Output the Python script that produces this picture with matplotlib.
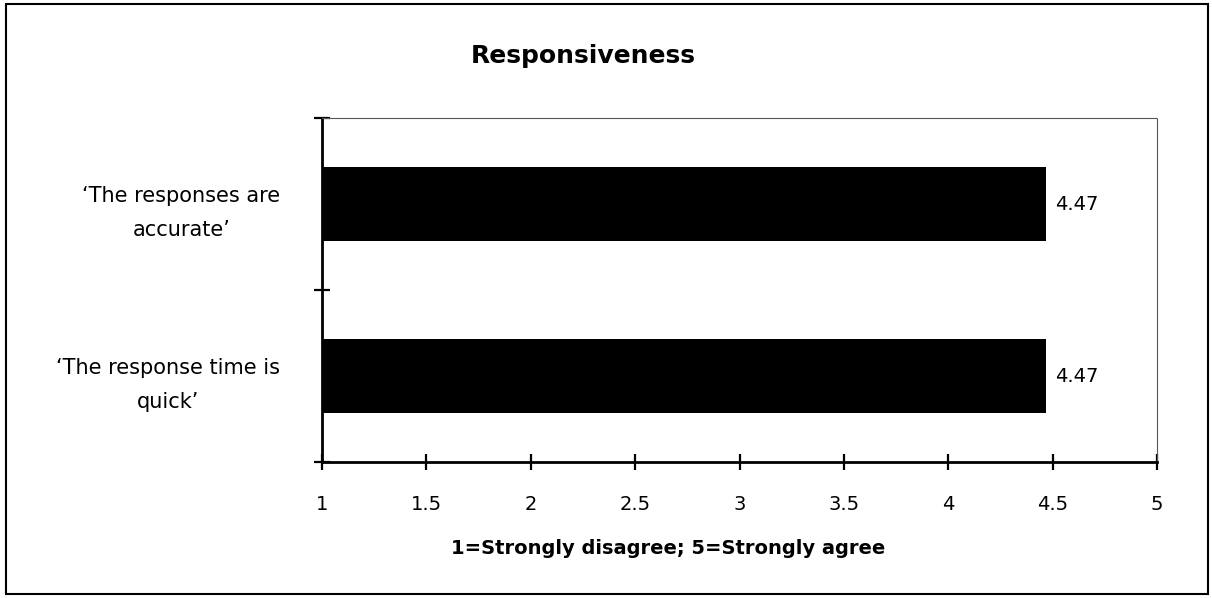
import matplotlib.pyplot as plt
from matplotlib.patches import Rectangle

# ====== Data ======
statements = ["\u2018The response time is\nquick\u2019", "\u2018The responses are\naccurate\u2019"]
scores = [4.47, 4.47]
x_ticks = [1, 1.5, 2, 2.5, 3, 3.5, 4, 4.5, 5]
x_tick_labels = ["1", "1.5", "2", "2.5", "3", "3.5", "4", "4.5", "5"]

plt.rcParams['font.family'] = ['DejaVu Sans']

fig = plt.figure(figsize=(12.12, 5.98), dpi=100)
ax = fig.add_axes([322 / 1212, 1 - 462 / 598, 835 / 1212, 344 / 598])

# bars (centred on each category band)
centers = [i + 0.5 for i in range(len(statements))]
ax.barh(centers, scores, height=0.43, color='black')
for c, v in zip(centers, scores):
    ax.text(v + 0.04, c, f"{v:.2f}", va='center', ha='left', fontsize=14)

ax.set_xlim(1, 5)
ax.set_ylim(0, len(statements))

# x axis
ax.set_xticks(x_ticks)
ax.set_xticklabels(x_tick_labels, fontsize=14)
ax.tick_params(axis='x', direction='inout', length=12, width=1.6, pad=18)

# y axis: ticks on band boundaries, labels in band centres
ax.set_yticks(range(len(statements) + 1))
ax.set_yticklabels([])
ax.set_yticks(centers, minor=True)
ax.set_yticklabels(statements, minor=True, fontsize=15, multialignment='center',
                   linespacing=1.85)
ax.tick_params(axis='y', which='major', direction='inout', length=12, width=1.6)
ax.tick_params(axis='y', which='minor', length=0, pad=30)

for side in ['left', 'bottom']:
    ax.spines[side].set_linewidth(2)
for side in ['top', 'right']:
    ax.spines[side].set_linewidth(0.8)
    ax.spines[side].set_color('#555555')
    ax.spines[side].set_linestyle((0, (1, 1)))

# titles
fig.text(583 / 1212, 1 - 56 / 598, "Responsiveness", ha='center', va='center',
         fontsize=18, fontweight='bold')
fig.text(668 / 1212, 1 - 549 / 598, "1=Strongly disagree; 5=Strongly agree",
         ha='center', va='center', fontsize=14, fontweight='bold')

# outer frame
fig.patches.append(Rectangle((6 / 1212, 4 / 598), 1202 / 1212, 590 / 598,
                             transform=fig.transFigure, fill=False,
                             edgecolor='black', linewidth=1.5))

plt.savefig('out.png', dpi=100)
